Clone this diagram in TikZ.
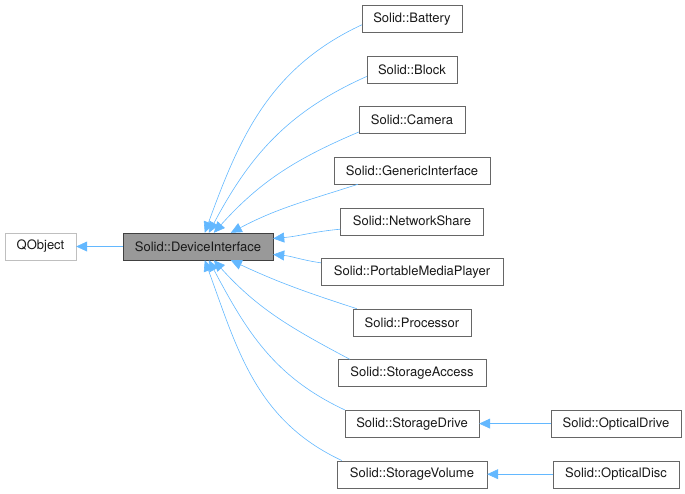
\documentclass[tikz,border=0pt]{standalone}
\usepackage{fontspec}
\setmainfont{TeX Gyre Heros}
\usetikzlibrary{arrows.meta}
\definecolor{edgeblue}{HTML}{63B8FF}
\definecolor{boxgray}{HTML}{666666}
\definecolor{devgray}{HTML}{999999}
\definecolor{devborder}{HTML}{404040}
\definecolor{qgray}{HTML}{BFBFBF}
\begin{document}
\begin{tikzpicture}[x=1pt, y=-1pt, grow'=right, font=\fontsize{13}{15}\selectfont, level 1/.style={level distance=157.5pt}, level 2/.style={level distance=214pt, sibling distance=50.6pt}, level 3/.style={level distance=204pt}, edge from parent/.style={draw=none}]
	\tikzstyle{every node}=[draw=boxgray, fill=white, text=black!90, minimum height=27pt, inner sep=0pt]
	\tikzstyle{inherit}=[draw=edgeblue, line width=0.6pt, -{Triangle[length=11pt,width=10pt,fill=edgeblue]}]

	\useasboundingbox (0,0) rectangle (685,493);

	\node (QObject) at (40.5,246.5) [draw=qgray, minimum width=71pt] {QObject}
		child { node (Device) [fill=devgray, draw=devborder, minimum width=150pt] {Solid::DeviceInterface}
			child { node (Battery) [minimum width=100pt] {Solid::Battery} }
			child { node (Block) [minimum width=90pt] {Solid::Block} }
			child { node (Camera) [minimum width=106pt] {Solid::Camera} }
			child { node (Generic) [minimum width=156pt] {Solid::GenericInterface} }
			child { node (Network) [minimum width=143pt] {Solid::NetworkShare} }
			child { node (Player) [minimum width=182pt] {Solid::PortableMediaPlayer} }
			child { node (Processor) [minimum width=118pt] {Solid::Processor} }
			child { node (StorageAccess) [minimum width=148pt] {Solid::StorageAccess} }
			child { node (StorageDrive) [minimum width=134pt] {Solid::StorageDrive}
				child { node (OpticalDrive) [minimum width=130pt] {Solid::OpticalDrive} }
			}
			child { node (StorageVolume) [minimum width=150pt] {Solid::StorageVolume}
				child { node (OpticalDisc) [minimum width=126pt] {Solid::OpticalDisc} }
			}
		};

	\draw[inherit] (Device) -- (QObject);
	\draw[inherit] ([yshift=-6pt]Battery.west) to[out=205, in=70] ([xshift=82pt]Device.north west);
	\draw[inherit] ([yshift=-7pt]Block.west) to[out=204, in=62] ([xshift=86pt]Device.north west);
	\draw[inherit] ([yshift=-12pt]Camera.west) to[out=203, in=48] ([xshift=91pt]Device.north west);
	\draw[inherit] ([xshift=24pt]Generic.south west) to[out=198, in=28] ([xshift=108pt]Device.north west);
	\draw[inherit] ([yshift=-8pt]Network.west) to[out=185, in=5] ([yshift=8pt]Device.east);
	\draw[inherit] ([yshift=9pt]Player.west) to[out=172, in=-5] ([yshift=-8pt]Device.east);
	\draw[inherit] ([xshift=4pt]Processor.north west) to[out=162, in=-25] ([xshift=108pt]Device.south west);
	\draw[inherit] ([xshift=12pt]StorageAccess.north west) to[out=152, in=-48] ([xshift=91pt]Device.south west);
	\draw[inherit] (StorageDrive.north west) to[out=155, in=-62] ([xshift=86pt]Device.south west);
	\draw[inherit] ([xshift=5pt]StorageVolume.north west) to[out=155, in=-70] ([xshift=82pt]Device.south west);
	\draw[inherit] (OpticalDrive) -- (StorageDrive);
	\draw[inherit] (OpticalDisc) -- (StorageVolume);
\end{tikzpicture}
\end{document}
